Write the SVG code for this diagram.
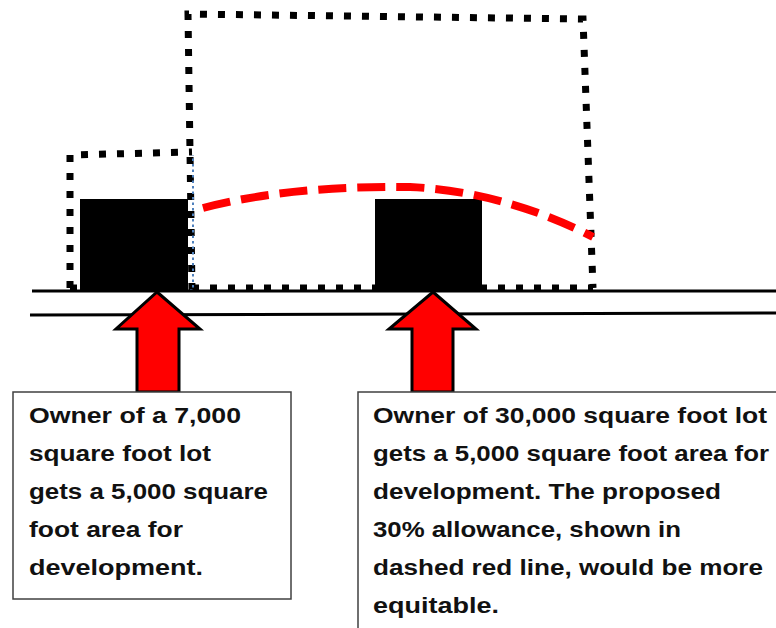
<svg xmlns="http://www.w3.org/2000/svg" width="776" height="628" viewBox="0 0 776 628">
<style>
.dots{fill:none;stroke:#000;stroke-width:7;stroke-dasharray:7 11;}
.blue{fill:none;stroke:#4f81bd;stroke-width:2;stroke-dasharray:2.5 3;}
.block{fill:#000;}
.road{fill:none;stroke:#000;stroke-width:3;}
.red{fill:none;stroke:#ff0000;stroke-width:8;stroke-dasharray:28 11;}
.arrow{fill:#ff0000;stroke:#000;stroke-width:3;stroke-linejoin:miter;}
.box{fill:#fff;stroke:#404040;stroke-width:1.5;}
.txt{font-family:"Liberation Sans",Arial,sans-serif;font-weight:bold;font-size:22px;fill:#111;}
</style>
<rect width="776" height="628" fill="#fff"/>
<g id="large-lot">
<path class="dots" d="M192,290 L188,14 L583,19 L593,288"/>
<path class="dots" d="M192,288 L593,288"/>
</g>
<g id="small-lot">
<path class="dots" d="M70,288 L70,155 L192,152"/>
<path class="dots" d="M70,288 L192,288"/>
<path class="blue" d="M80,290 L193,290 L193,155"/>
</g>
<g id="building-small"><rect class="block" x="80" y="199" width="108" height="91"/></g>
<g id="building-large"><rect class="block" x="375" y="199" width="107" height="91"/></g>
<g id="allowance-line"><path class="red" d="M203,208 C260,193 330,186 410,187 C480,190 545,212 593,237"/></g>
<g id="road">
<path class="road" d="M32,291 L776,291"/>
<path class="road" d="M30,315 L776,313"/>
</g>
<g id="connectors">
<polygon class="arrow" points="157,292 200,329 179,329 179,392 137,392 137,329 116,329"/>
<polygon class="arrow" points="433,292 476,329 453,329 453,392 412,392 412,329 389,329"/>
</g>
<g id="note-small">
<rect class="box" x="13" y="392" width="278" height="207"/>
<text class="txt" x="29" y="423" textLength="212" lengthAdjust="spacingAndGlyphs">Owner of a 7,000</text>
<text class="txt" x="29" y="461" textLength="182" lengthAdjust="spacingAndGlyphs">square foot lot</text>
<text class="txt" x="29" y="499" textLength="239" lengthAdjust="spacingAndGlyphs">gets a 5,000 square</text>
<text class="txt" x="29" y="537" textLength="154" lengthAdjust="spacingAndGlyphs">foot area for</text>
<text class="txt" x="29" y="575" textLength="174" lengthAdjust="spacingAndGlyphs">development.</text>
</g>
<g id="note-large">
<rect class="box" x="358" y="392" width="430" height="250"/>
<text class="txt" x="373" y="423" textLength="394" lengthAdjust="spacingAndGlyphs">Owner of 30,000 square foot lot</text>
<text class="txt" x="373" y="461" textLength="396" lengthAdjust="spacingAndGlyphs">gets a 5,000 square foot area for</text>
<text class="txt" x="373" y="499" textLength="348" lengthAdjust="spacingAndGlyphs">development. The proposed</text>
<text class="txt" x="373" y="537" textLength="308" lengthAdjust="spacingAndGlyphs">30% allowance, shown in</text>
<text class="txt" x="373" y="575" textLength="390" lengthAdjust="spacingAndGlyphs">dashed red line, would be more</text>
<text class="txt" x="373" y="613" textLength="126" lengthAdjust="spacingAndGlyphs">equitable.</text>
</g>
</svg>
